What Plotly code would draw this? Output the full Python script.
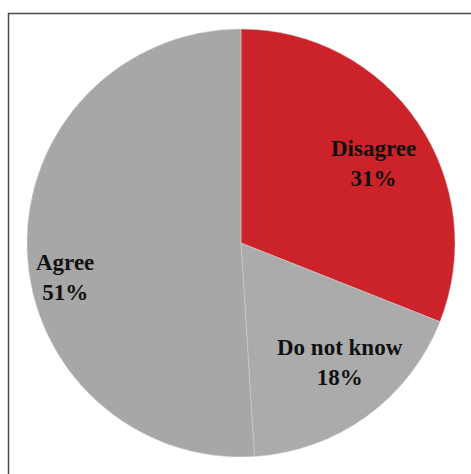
import plotly.graph_objects as go

categories = ["Disagree", "Do not know", "Agree"]
values = [31, 18, 51]
colors = ["#CC2229", "#ABABAB", "#A7A7A7"]
label_pos = {"Disagree": (373, 163), "Do not know": (340, 362), "Agree": (65, 277)}

W, H = 471, 474
fig = go.Figure(go.Pie(
    labels=categories, values=values, sort=False, direction="clockwise", rotation=0,
    marker=dict(colors=colors, line=dict(color="#d0d0d0", width=0.5)),
    textinfo="none", hoverinfo="label+percent", showlegend=False,
    domain=dict(x=[27 / W, 455 / W], y=[1 - 457 / H, 1 - 29 / H]),
))

for c, v in zip(categories, values):
    x, y = label_pos[c]
    fig.add_annotation(x=x / W, y=1 - y / H, xref="paper", yref="paper",
                       text=f"<b>{c}<br>{v}%</b>", showarrow=False,
                       font=dict(family="Liberation Serif", size=23, color="#111111"),
                       xanchor="center", yanchor="middle", align="center")

fig.add_shape(type="rect", xref="paper", yref="paper",
              x0=8.5 / W, x1=1.05, y0=-0.05, y1=1 - 13.5 / H,
              line=dict(color="#4a4a4a", width=1.5), layer="below")

fig.update_layout(width=W, height=H, margin=dict(l=0, r=0, t=0, b=0),
                  paper_bgcolor="white", plot_bgcolor="white")
fig.write_html("out.html")
